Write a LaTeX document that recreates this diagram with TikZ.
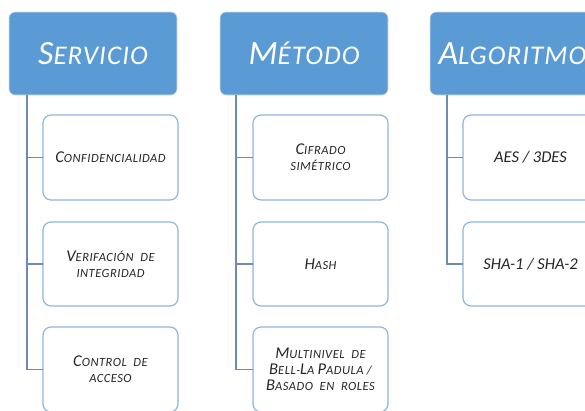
\documentclass[tikz,border=0pt]{standalone}
\usepackage{fontspec}
\setmainfont{Carlito}
\newcommand\HB[1]{{\fontsize{34}{36}\selectfont #1}}
\newcommand\CB[1]{{\fontsize{16.5}{16}\selectfont #1}}
\definecolor{hdrfill}{HTML}{5B9BD5}
\definecolor{hdrline}{HTML}{D6DEE8}
\definecolor{kidline}{HTML}{8DB6E0}
\definecolor{treeline}{HTML}{6F8CB0}
\definecolor{txt}{HTML}{262626}
\tikzset{
  hdr/.style={draw=hdrline, line width=0.6pt, fill=hdrfill, rounded corners=6pt},
  kid/.style={draw=kidline, line width=1.2pt, fill=white, rounded corners=8pt},
  lbl/.style={align=center, text=txt, font=\fontsize{12.5}{16}\selectfont\itshape\addfontfeature{LetterSpace=4}},
  htxt/.style={text=white, font=\fontsize{27}{30}\selectfont\itshape\addfontfeature{LetterSpace=4}},
  tree/.style={draw=treeline, line width=1.5pt}
}
\begin{document}
\begin{tikzpicture}[x=1pt,y=1pt]
\useasboundingbox (0,0) rectangle (585,-410);
\clip (0,0) rectangle (585,-410);
% headers
\draw[hdr] (9,-12) rectangle (177,-95);
\draw[hdr] (220,-12) rectangle (388,-95);
\draw[hdr] (430,-12) rectangle (598,-95);
\node[htxt] (h1) at (93,-53.5) {\HB{S}ERVICIO};
\node[htxt] (h2) at (304,-53.5) {\HB{M}ÉTODO};
\node[htxt, anchor=west] (h3) at (435,-53.5) {\HB{A}LGORITMO};
\coordinate (t1) at (27,-95);
\coordinate (t2) at (236,-95);
\coordinate (t3) at (447,-95);
% children column 1
\draw[kid] (43,-115) rectangle (178,-200);
\draw[kid] (43,-222) rectangle (178,-306);
\draw[kid] (43,-327) rectangle (178,-412);
\node[lbl] (a1) at (110.5,-157.5) {\CB{C}ONFIDENCIALIDAD};
\node[lbl] (a2) at (110.5,-264) {\CB{V}ERIFACIÓN\ \ DE\\INTEGRIDAD};
\node[lbl] (a3) at (110.5,-369.5) {\CB{C}ONTROL\ \ DE\\ACCESO};
% children column 2
\draw[kid] (253,-115) rectangle (388,-200);
\draw[kid] (253,-222) rectangle (388,-306);
\draw[kid] (253,-327) rectangle (388,-412);
\node[lbl] (b1) at (320.5,-157.5) {\CB{C}IFRADO\\SIMÉTRICO};
\node[lbl] (b2) at (320.5,-264) {\CB{H}ASH};
\node[lbl] (b3) at (320.5,-369.5) {\CB{M}ULTINIVEL\ \ DE\\\CB{B}ELL-\CB{L}A \CB{P}ADULA /\\\CB{B}ASADO\ \ EN\ \ ROLES};
% children column 3
\draw[kid] (463,-115) rectangle (598,-200);
\draw[kid] (463,-222) rectangle (598,-306);
\node[lbl, font=\fontsize{16.5}{18}\selectfont\itshape] (c1) at (530.5,-157.5) {AES / 3DES};
\node[lbl, font=\fontsize{16.5}{18}\selectfont\itshape] (c2) at (530.5,-264) {SHA-1 / SHA-2};
% tree lines
\coordinate (ka1) at (43,-157.5);
\coordinate (ka2) at (43,-264);
\coordinate (ka3) at (43,-369.5);
\coordinate (kb1) at (253,-157.5);
\coordinate (kb2) at (253,-264);
\coordinate (kb3) at (253,-369.5);
\coordinate (kc1) at (463,-157.5);
\coordinate (kc2) at (463,-264);
\draw[tree] (t1) |- (ka3);
\draw[tree] (t1 |- ka1) -- (ka1);
\draw[tree] (t1 |- ka2) -- (ka2);
\draw[tree] (t2) |- (kb3);
\draw[tree] (t2 |- kb1) -- (kb1);
\draw[tree] (t2 |- kb2) -- (kb2);
\draw[tree] (t3) |- (kc2);
\draw[tree] (t3 |- kc1) -- (kc1);
\end{tikzpicture}
\end{document}
